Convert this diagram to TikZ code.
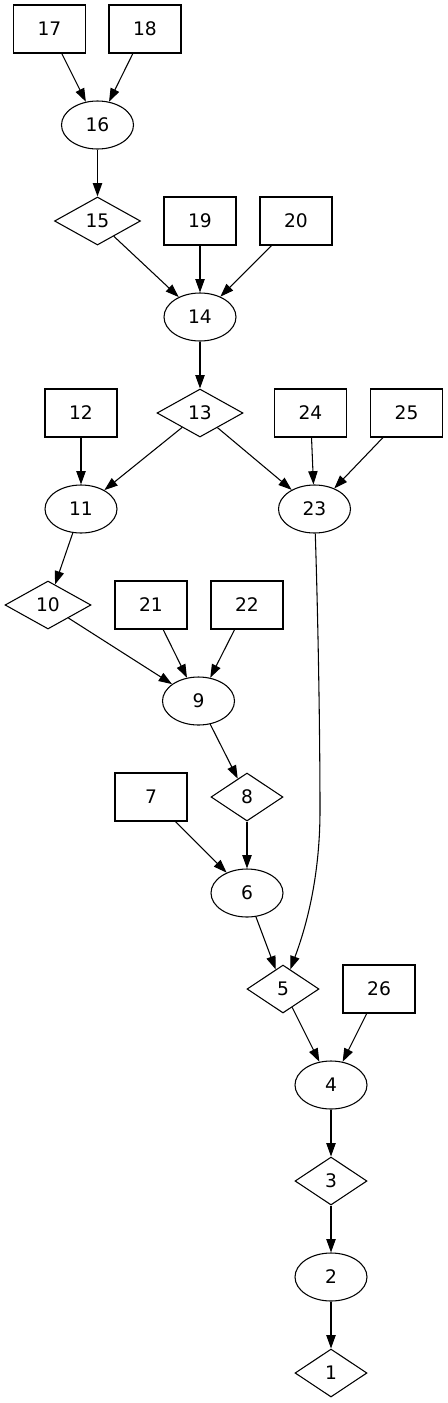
\documentclass[tikz,border=0pt]{standalone}
\usepackage{fontspec}
\setmainfont{DejaVu Sans}
\usetikzlibrary{shapes.geometric,arrows.meta}
\begin{document}
\begin{tikzpicture}[x=0.75pt,y=-0.75pt,
  every node/.style={font=\fontsize{14pt}{16pt}\selectfont, inner sep=0pt, draw, line width=0.8pt},
  boxnode/.style={rectangle, minimum width=54pt, minimum height=36pt},
  ellnode/.style={ellipse, minimum width=54pt, minimum height=36pt},
  dianode/.style={diamond, minimum width=54pt, minimum height=36pt},
  diawide/.style={diamond, minimum width=64.5pt, minimum height=36pt},
  edge/.style={line width=0.8pt, -{Triangle[length=10pt,width=7pt]}}
]
\useasboundingbox (0,0) rectangle (448,1403);
\node[boxnode] (n17) at (49.5,29) {17};
\node[boxnode] (n18) at (145,29) {18};
\node[ellnode] (n16) at (97.5,125) {16};
\node[diawide] (n15) at (97.5,221) {15};
\node[boxnode] (n19) at (200,221) {19};
\node[boxnode] (n20) at (296,221) {20};
\node[ellnode] (n14) at (200,317) {14};
\node[diawide] (n13) at (200,413) {13};
\node[boxnode] (n12) at (81,413) {12};
\node[boxnode] (n24) at (310.5,413) {24};
\node[boxnode] (n25) at (406.5,413) {25};
\node[ellnode] (n11) at (81,509) {11};
\node[ellnode] (n23) at (314.5,509) {23};
\node[diawide] (n10) at (48,605) {10};
\node[boxnode] (n21) at (151,605) {21};
\node[boxnode] (n22) at (247,605) {22};
\node[ellnode] (n9) at (198.5,701) {9};
\node[boxnode] (n7) at (151,797) {7};
\node[dianode] (n8) at (247,797) {8};
\node[ellnode] (n6) at (247,893) {6};
\node[dianode] (n5) at (283,989) {5};
\node[boxnode] (n26) at (379,989) {26};
\node[ellnode] (n4) at (331,1085) {4};
\node[dianode] (n3) at (331,1181) {3};
\node[ellnode] (n2) at (331,1277) {2};
\node[dianode] (n1) at (331,1373) {1};

\draw[edge] (n17) -- (n16);
\draw[edge] (n18) -- (n16);
\draw[edge] (n16) -- (n15);
\draw[edge] (n15) -- (n14);
\draw[edge] (n19) -- (n14);
\draw[edge] (n20) -- (n14);
\draw[edge] (n14) -- (n13);
\draw[edge] (n13) -- (n11);
\draw[edge] (n12) -- (n11);
\draw[edge] (n13) -- (n23);
\draw[edge] (n24) -- (n23);
\draw[edge] (n25) -- (n23);
\draw[edge] (n11) -- (n10);
\draw[edge] (n10) -- (n9);
\draw[edge] (n21) -- (n9);
\draw[edge] (n22) -- (n9);
\draw[edge] (n9) -- (n8);
\draw[edge] (n8) -- (n6);
\draw[edge] (n7) -- (n6);
\draw[edge] (n6) -- (n5);
\draw[edge] (n23) .. controls (319,650) and (320,760) .. (320,810) .. controls (320,880) and (305,930) .. (n5);
\draw[edge] (n5) -- (n4);
\draw[edge] (n26) -- (n4);
\draw[edge] (n4) -- (n3);
\draw[edge] (n3) -- (n2);
\draw[edge] (n2) -- (n1);
\end{tikzpicture}
\end{document}
